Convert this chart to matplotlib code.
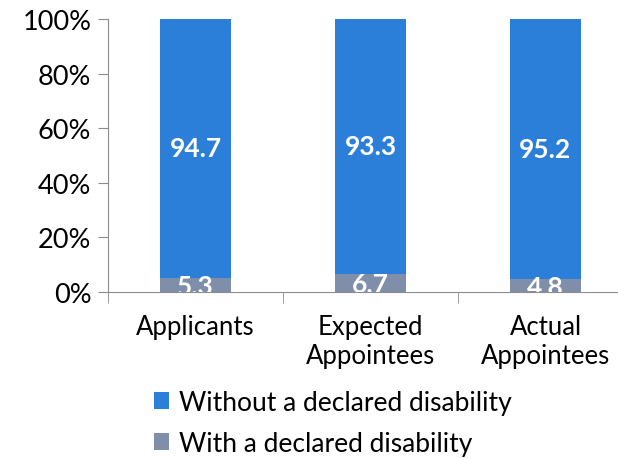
import matplotlib.pyplot as plt
import numpy as np

categories = ["Applicants", "Expected\nAppointees", "Actual\nAppointees"]
with_dis = [5.3, 6.7, 4.8]
without_dis = [94.7, 93.3, 95.2]
yticks = [0, 20, 40, 60, 80, 100]

blue = "#2b7fd8"
grey = "#7f8fa9"
axis_col = "#8c8c8c"
plt.rcParams["font.family"] = ["Lato", "DejaVu Sans"]

fig = plt.figure(figsize=(6.18, 4.6), dpi=100)
ax = fig.add_axes([108 / 618, 1 - 293 / 460, (618 - 108) / 618, 273 / 460])

x = np.arange(len(categories))
b1 = ax.bar(x, with_dis, width=0.405, color=grey, label="With a declared disability")
b2 = ax.bar(x, without_dis, width=0.405, bottom=with_dis, color=blue,
            label="Without a declared disability")

for i in range(len(x)):
    ax.text(x[i], with_dis[i] / 2 - 0.6, f"{with_dis[i]:.1f}", ha="center", va="center",
            color="white", fontsize=19, fontweight="bold", clip_on=True)
    ax.text(x[i], with_dis[i] + without_dis[i] / 2, f"{without_dis[i]:.1f}",
            ha="center", va="center", color="white", fontsize=19, fontweight="bold")

ax.set_xlim(-0.5, -0.5 + 510 / 175)
ax.set_ylim(0, 100)
ax.set_yticks(yticks)
ax.set_yticklabels([f"{v}%" for v in yticks], fontsize=19.5)
ax.set_xticks(x)
ax.set_xticklabels(categories, fontsize=18.5, linespacing=1.2)
ax.set_xticks([-0.5, 0.5, 1.5], minor=True)
ax.tick_params(axis="x", which="major", length=0, pad=16)
ax.tick_params(axis="x", which="minor", length=8, color=axis_col)
ax.tick_params(axis="y", length=7, color=axis_col, pad=5)

for s in ["top", "right"]:
    ax.spines[s].set_visible(False)
for s in ["left", "bottom"]:
    ax.spines[s].set_color(axis_col)

fig.legend(handles=[b2, b1], loc="upper left", bbox_to_anchor=(143 / 618, 1 - 380 / 460),
           frameon=False, fontsize=19, handlelength=0.6, handleheight=0.6,
           handletextpad=0.35, labelspacing=0.62, borderaxespad=0)

fig.savefig("out.png", dpi=100)
